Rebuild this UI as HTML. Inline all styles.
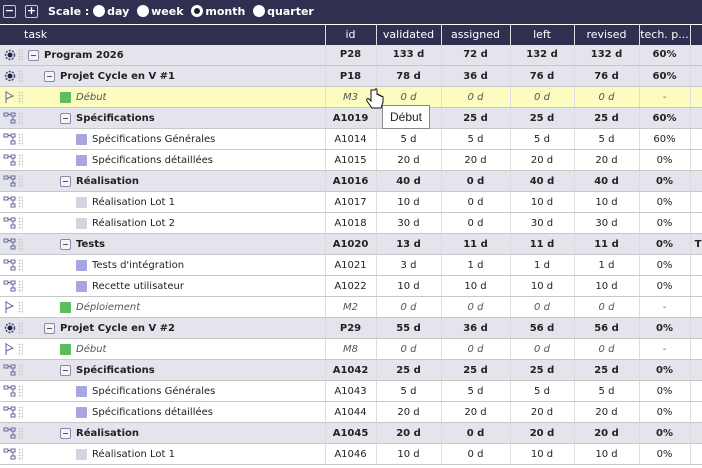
<!DOCTYPE html>
<html><head><meta charset="utf-8"><style>
*{box-sizing:border-box;margin:0;padding:0}
body{width:702px;height:468px;overflow:hidden;background:#fff;font-family:"DejaVu Sans","Liberation Sans",sans-serif;font-size:10px;color:#222}
.top{height:24px;background:#2f3050;color:#fff;position:relative;font-weight:bold;font-size:11px}
.top .b{position:absolute;top:5px;width:13px;height:13px;border:1px solid #ccc;border-radius:2px;color:#fff;font-size:11px;line-height:10px;text-align:center}
.top .t{position:absolute;top:5px}
.r{display:inline-block;width:12px;height:12px;border-radius:6px;background:#fff;vertical-align:-2px;margin-right:2px}
table{border-collapse:collapse;table-layout:fixed;width:702px}
th{height:20px;background:#2f3050;color:#fff;font-weight:normal;font-size:11px;border-right:1px solid #ddd;border-top:1px solid #fff;white-space:nowrap;overflow:hidden}
td{height:21px;border-bottom:1px solid #c8c8c8;border-right:1px solid #ddd;text-align:center;white-space:nowrap;overflow:hidden;padding:0}
tr.g td{background:#e4e4ec;font-weight:bold}
tr.y td{background:#fdfcc0}
tr.m td{font-style:italic;color:#555}
td.k{text-align:left;position:relative}
.ic{position:absolute;left:3px;top:4px;width:14px;height:12px}
.dh{position:absolute;left:18px;top:4px;width:5px;height:13px;background-image:radial-gradient(#ccc 45%,transparent 50%);background-size:3px 3px}
.mb{position:absolute;top:5px;width:11px;height:11px;border:1px solid #8a8aa8;border-radius:2px;background:#f4f4f8}
.mb:after{content:"";position:absolute;left:2px;top:4px;width:5px;height:1px;background:#555}
.sq{position:absolute;top:5px;left:60px;width:11px;height:11px;border-radius:1px}
.tx{position:absolute;top:5px}
tr.l .sq{left:76px}
tr.l .tx{left:92px!important}
</style></head><body>
<div class="top">
<div class="b" style="left:3px">−</div><div class="b" style="left:25px">+</div>
<div class="t" style="left:48px">Scale : <span class="r"></span>day <span class="r" style="margin-left:4px"></span>week <span class="r" style="margin-left:4px;border:3px solid #fff;background:#222"></span>month <span class="r" style="margin-left:4px"></span>quarter</div>
</div>
<table>
<colgroup><col style="width:325px"><col style="width:51px"><col style="width:65px"><col style="width:69px"><col style="width:64px"><col style="width:65px"><col style="width:51px"><col style="width:12px"></colgroup>
<tr><th style="text-align:left;padding-left:24px">task</th><th>id</th><th>validated</th><th>assigned</th><th>left</th><th>revised</th><th>tech. p...</th><th></th></tr>

<tr class="g"><td class="k"><svg class="ic" viewBox="0 0 14 12"><circle cx="7" cy="6" r="4.5" fill="none" stroke="#446" stroke-width="1.5" stroke-dasharray="2 1.3"/><circle cx="7" cy="6" r="2.5" fill="#224"/></svg><span class="dh"></span><span class="mb" style="left:28px"></span><span class="tx" style="left:44px">Program 2026</span></td><td>P28</td><td>133 d</td><td>72 d</td><td>132 d</td><td>132 d</td><td>60%</td><td></td></tr>
<tr class="g"><td class="k"><svg class="ic" viewBox="0 0 14 12"><circle cx="7" cy="6" r="4.5" fill="none" stroke="#446" stroke-width="1.5" stroke-dasharray="2 1.3"/><circle cx="7" cy="6" r="2.5" fill="#224"/></svg><span class="dh"></span><span class="mb" style="left:44px"></span><span class="tx" style="left:60px">Projet Cycle en V #1</span></td><td>P18</td><td>78 d</td><td>36 d</td><td>76 d</td><td>76 d</td><td>60%</td><td></td></tr>
<tr class="y m"><td class="k"><svg class="ic" viewBox="0 0 14 12"><path d="M3 0V13M3 1L10 5L3 8" fill="none" stroke="#669" stroke-width="1"/></svg><span class="dh"></span><span class="sq" style="background:#5cbd5c"></span><span class="tx" style="left:76px">Début</span></td><td>M3</td><td>0 d</td><td>0 d</td><td>0 d</td><td>0 d</td><td>-</td><td></td></tr>
<tr class="g"><td class="k"><svg class="ic" viewBox="0 0 14 12"><path d="M1 1h4v3h-4zM8 1h4v3h-4zM8 8h4v3h-4zM5 2.5h3M10 4v4" fill="none" stroke="#669"/></svg><span class="dh"></span><span class="mb" style="left:60px"></span><span class="tx" style="left:76px">Spécifications</span></td><td>A1019</td><td></td><td>25 d</td><td>25 d</td><td>25 d</td><td>60%</td><td></td></tr>
<tr class="l"><td class="k"><svg class="ic" viewBox="0 0 14 12"><path d="M1 1h4v3h-4zM8 1h4v3h-4zM8 8h4v3h-4zM5 2.5h3M10 4v4" fill="none" stroke="#669"/></svg><span class="dh"></span><span class="sq" style="background:#a8a6e0"></span><span class="tx" style="left:76px">Spécifications Générales</span></td><td>A1014</td><td>5 d</td><td>5 d</td><td>5 d</td><td>5 d</td><td>60%</td><td></td></tr>
<tr class="l"><td class="k"><svg class="ic" viewBox="0 0 14 12"><path d="M1 1h4v3h-4zM8 1h4v3h-4zM8 8h4v3h-4zM5 2.5h3M10 4v4" fill="none" stroke="#669"/></svg><span class="dh"></span><span class="sq" style="background:#a8a6e0"></span><span class="tx" style="left:76px">Spécifications détaillées</span></td><td>A1015</td><td>20 d</td><td>20 d</td><td>20 d</td><td>20 d</td><td>0%</td><td></td></tr>
<tr class="g"><td class="k"><svg class="ic" viewBox="0 0 14 12"><path d="M1 1h4v3h-4zM8 1h4v3h-4zM8 8h4v3h-4zM5 2.5h3M10 4v4" fill="none" stroke="#669"/></svg><span class="dh"></span><span class="mb" style="left:60px"></span><span class="tx" style="left:76px">Réalisation</span></td><td>A1016</td><td>40 d</td><td>0 d</td><td>40 d</td><td>40 d</td><td>0%</td><td></td></tr>
<tr class="l"><td class="k"><svg class="ic" viewBox="0 0 14 12"><path d="M1 1h4v3h-4zM8 1h4v3h-4zM8 8h4v3h-4zM5 2.5h3M10 4v4" fill="none" stroke="#669"/></svg><span class="dh"></span><span class="sq" style="background:#d4d4e0"></span><span class="tx" style="left:76px">Réalisation Lot 1</span></td><td>A1017</td><td>10 d</td><td>0 d</td><td>10 d</td><td>10 d</td><td>0%</td><td></td></tr>
<tr class="l"><td class="k"><svg class="ic" viewBox="0 0 14 12"><path d="M1 1h4v3h-4zM8 1h4v3h-4zM8 8h4v3h-4zM5 2.5h3M10 4v4" fill="none" stroke="#669"/></svg><span class="dh"></span><span class="sq" style="background:#d4d4e0"></span><span class="tx" style="left:76px">Réalisation Lot 2</span></td><td>A1018</td><td>30 d</td><td>0 d</td><td>30 d</td><td>30 d</td><td>0%</td><td></td></tr>
<tr class="g"><td class="k"><svg class="ic" viewBox="0 0 14 12"><path d="M1 1h4v3h-4zM8 1h4v3h-4zM8 8h4v3h-4zM5 2.5h3M10 4v4" fill="none" stroke="#669"/></svg><span class="dh"></span><span class="mb" style="left:60px"></span><span class="tx" style="left:76px">Tests</span></td><td>A1020</td><td>13 d</td><td>11 d</td><td>11 d</td><td>11 d</td><td>0%</td><td style="text-align:right">T</td></tr>
<tr class="l"><td class="k"><svg class="ic" viewBox="0 0 14 12"><path d="M1 1h4v3h-4zM8 1h4v3h-4zM8 8h4v3h-4zM5 2.5h3M10 4v4" fill="none" stroke="#669"/></svg><span class="dh"></span><span class="sq" style="background:#a8a6e0"></span><span class="tx" style="left:76px">Tests d'intégration</span></td><td>A1021</td><td>3 d</td><td>1 d</td><td>1 d</td><td>1 d</td><td>0%</td><td></td></tr>
<tr class="l"><td class="k"><svg class="ic" viewBox="0 0 14 12"><path d="M1 1h4v3h-4zM8 1h4v3h-4zM8 8h4v3h-4zM5 2.5h3M10 4v4" fill="none" stroke="#669"/></svg><span class="dh"></span><span class="sq" style="background:#a8a6e0"></span><span class="tx" style="left:76px">Recette utilisateur</span></td><td>A1022</td><td>10 d</td><td>10 d</td><td>10 d</td><td>10 d</td><td>0%</td><td></td></tr>
<tr class="m"><td class="k"><svg class="ic" viewBox="0 0 14 12"><path d="M3 0V13M3 1L10 5L3 8" fill="none" stroke="#669" stroke-width="1"/></svg><span class="dh"></span><span class="sq" style="background:#5cbd5c"></span><span class="tx" style="left:76px">Déploiement</span></td><td>M2</td><td>0 d</td><td>0 d</td><td>0 d</td><td>0 d</td><td>-</td><td></td></tr>
<tr class="g"><td class="k"><svg class="ic" viewBox="0 0 14 12"><circle cx="7" cy="6" r="4.5" fill="none" stroke="#446" stroke-width="1.5" stroke-dasharray="2 1.3"/><circle cx="7" cy="6" r="2.5" fill="#224"/></svg><span class="dh"></span><span class="mb" style="left:44px"></span><span class="tx" style="left:60px">Projet Cycle en V #2</span></td><td>P29</td><td>55 d</td><td>36 d</td><td>56 d</td><td>56 d</td><td>0%</td><td></td></tr>
<tr class="m"><td class="k"><svg class="ic" viewBox="0 0 14 12"><path d="M3 0V13M3 1L10 5L3 8" fill="none" stroke="#669" stroke-width="1"/></svg><span class="dh"></span><span class="sq" style="background:#5cbd5c"></span><span class="tx" style="left:76px">Début</span></td><td>M8</td><td>0 d</td><td>0 d</td><td>0 d</td><td>0 d</td><td>-</td><td></td></tr>
<tr class="g"><td class="k"><svg class="ic" viewBox="0 0 14 12"><path d="M1 1h4v3h-4zM8 1h4v3h-4zM8 8h4v3h-4zM5 2.5h3M10 4v4" fill="none" stroke="#669"/></svg><span class="dh"></span><span class="mb" style="left:60px"></span><span class="tx" style="left:76px">Spécifications</span></td><td>A1042</td><td>25 d</td><td>25 d</td><td>25 d</td><td>25 d</td><td>0%</td><td></td></tr>
<tr class="l"><td class="k"><svg class="ic" viewBox="0 0 14 12"><path d="M1 1h4v3h-4zM8 1h4v3h-4zM8 8h4v3h-4zM5 2.5h3M10 4v4" fill="none" stroke="#669"/></svg><span class="dh"></span><span class="sq" style="background:#a8a6e0"></span><span class="tx" style="left:76px">Spécifications Générales</span></td><td>A1043</td><td>5 d</td><td>5 d</td><td>5 d</td><td>5 d</td><td>0%</td><td></td></tr>
<tr class="l"><td class="k"><svg class="ic" viewBox="0 0 14 12"><path d="M1 1h4v3h-4zM8 1h4v3h-4zM8 8h4v3h-4zM5 2.5h3M10 4v4" fill="none" stroke="#669"/></svg><span class="dh"></span><span class="sq" style="background:#a8a6e0"></span><span class="tx" style="left:76px">Spécifications détaillées</span></td><td>A1044</td><td>20 d</td><td>20 d</td><td>20 d</td><td>20 d</td><td>0%</td><td></td></tr>
<tr class="g"><td class="k"><svg class="ic" viewBox="0 0 14 12"><path d="M1 1h4v3h-4zM8 1h4v3h-4zM8 8h4v3h-4zM5 2.5h3M10 4v4" fill="none" stroke="#669"/></svg><span class="dh"></span><span class="mb" style="left:60px"></span><span class="tx" style="left:76px">Réalisation</span></td><td>A1045</td><td>20 d</td><td>0 d</td><td>20 d</td><td>20 d</td><td>0%</td><td></td></tr>
<tr class="l"><td class="k"><svg class="ic" viewBox="0 0 14 12"><path d="M1 1h4v3h-4zM8 1h4v3h-4zM8 8h4v3h-4zM5 2.5h3M10 4v4" fill="none" stroke="#669"/></svg><span class="dh"></span><span class="sq" style="background:#d4d4e0"></span><span class="tx" style="left:76px">Réalisation Lot 1</span></td><td>A1046</td><td>10 d</td><td>0 d</td><td>10 d</td><td>10 d</td><td>0%</td><td></td></tr>
</table>
<div style="position:absolute;left:382px;top:105px;width:48px;height:24px;background:#fff;border:1px solid #888;font-family:'Liberation Sans',sans-serif;font-size:12px;line-height:22px;text-align:center;color:#222">Début</div>
<svg style="position:absolute;left:366px;top:88px" width="18" height="24" viewBox="0 0 18 24"><path d="M5 2v11l-2-2c-1-1-3 0-2 2l5 7h9l2-6v-5c0-1-2-1-2 0v-1c0-1-2-1-2 0v-1c0-1-2-1-2 0V2c0-1.5-2-1.5-2 0z" fill="#fff" stroke="#111" stroke-width="1"/></svg>
</body></html>
